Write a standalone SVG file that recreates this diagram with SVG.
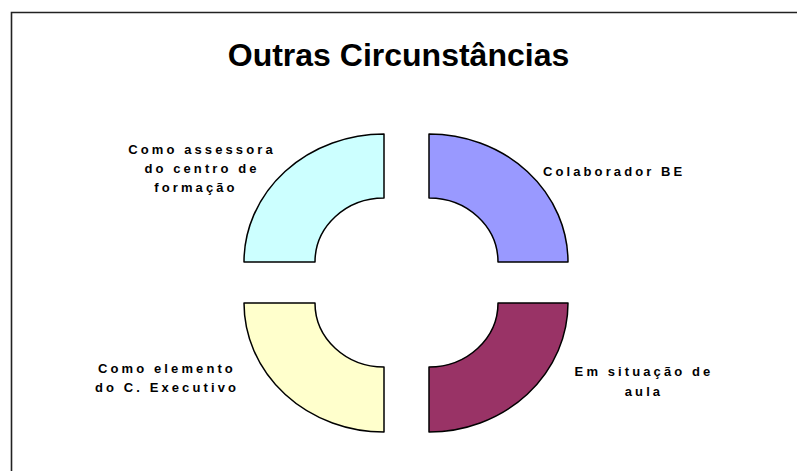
<svg xmlns="http://www.w3.org/2000/svg" width="797" height="471" viewBox="0 0 797 471">
<style>
.seg{stroke:#000;stroke-width:1.5;stroke-linejoin:round}
.lbl{font-family:"Liberation Sans",Arial,sans-serif;font-weight:bold;font-size:13px;letter-spacing:3.1px;fill:#000}
.title{font-family:"Liberation Sans",Arial,sans-serif;font-weight:bold;font-size:32px;fill:#000}
</style>
<rect width="797" height="471" fill="#fff"/>
<path d="M11.5 471 L11.5 12.5 L797 12.5" fill="none" stroke="#222" stroke-width="1.6"/>
<text class="title" x="398.5" y="66" text-anchor="middle">Outras Circunstâncias</text>
<g id="seg-assessora">
<path class="seg" fill="#CCFFFF" d="M384 134 L384 198 A69 64 0 0 0 315 262 L244 262 A140 128 0 0 1 384 134 Z"/>
<text class="lbl" text-anchor="middle"><tspan x="202" y="154">Como assessora</tspan><tspan x="202" y="173">do centro de</tspan><tspan x="196" y="192">formação</tspan></text>
</g>
<g id="seg-colaborador">
<path class="seg" fill="#9999FF" d="M429 134 A139 128 0 0 1 568 262 L498 262 A69 64 0 0 0 429 198 Z"/>
<text class="lbl" x="543" y="176">Colaborador BE</text>
</g>
<g id="seg-executivo">
<path class="seg" fill="#FFFFCC" d="M244 303 L315 303 A69 64 0 0 0 384 367 L384 432 A140 129 0 0 1 244 303 Z"/>
<text class="lbl" text-anchor="middle"><tspan x="167" y="373">Como elemento</tspan><tspan x="167" y="392">do C. Executivo</tspan></text>
</g>
<g id="seg-aula">
<path class="seg" fill="#993366" d="M429 367 A69 64 0 0 0 498 303 L568 303 A139 129 0 0 1 429 432 Z"/>
<text class="lbl" text-anchor="middle"><tspan x="644" y="376">Em situação de</tspan><tspan x="644" y="396">aula</tspan></text>
</g>
<g id="connectors"></g>
</svg>
